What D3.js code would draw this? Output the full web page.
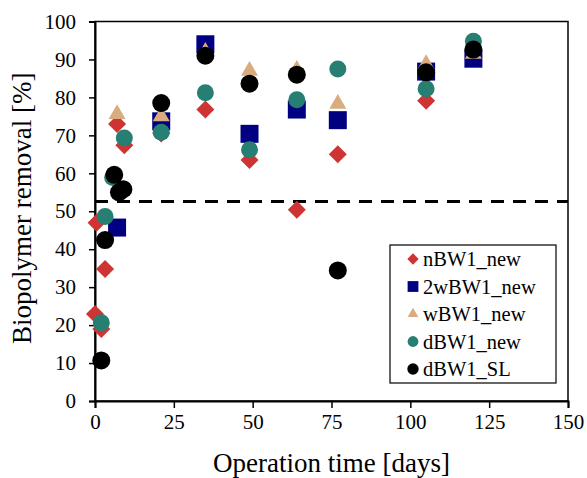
<!DOCTYPE html>
<html><head><meta charset="utf-8">
<script src="https://cdn.jsdelivr.net/npm/d3@7"></script>
<style>body{margin:0;background:#fff}svg{display:block}text{font-family:"Liberation Serif","Times New Roman",serif;fill:#000}</style>
</head><body><svg id="c" width="587" height="478"></svg>
<script>
const xTicks=[0,25,50,75,100,125,150];
const yTicks=[0,10,20,30,40,50,60,70,80,90,100];
const threshold=52.6;
const seriesNames=["nBW1_new","2wBW1_new","wBW1_new","dBW1_new","dBW1_SL"];
const nBW1_new=[[0,22.9],[2,19],[0.5,47],[3.2,34.8],[7,73],[9.3,67.4],[21,70.5],[35,76.8],[49,63.5],[64,50.4],[77,65],[105,79.1],[120,92]];
const w2BW1_new=[[7,45.7],[21,73.7],[35,94],[49,70.4],[64,76.8],[77,74],[105,86.8],[120,90.2]];
const wBW1_new=[[7,75.6],[21,75],[35,92],[49,87],[64,87.3],[77,78.3],[105,88.8],[120,91.5]];
const dBW1_new=[[2,20.6],[3.2,48.6],[5.6,58.9],[9.3,69.3],[21,70.8],[35,81.2],[49,66.2],[64,79.4],[77,87.5],[105,82.3],[120,94.8]];
const dBW1_SL=[[2,10.7],[3.2,42.4],[6.1,59.6],[7.6,55],[9,55.8],[21,78.5],[35,91],[49,83.6],[64,86],[77,34.4],[105,86.6],[120,92.6]];
const colors=["#cf3434","#000080","#d8ac7f","#267f72","#000000"];
const allSeries=[nBW1_new,w2BW1_new,wBW1_new,dBW1_new,dBW1_SL];

const svg=d3.select("#c");
const L=95,R=568,T=21.5,B=401;
const x=d3.scaleLinear().domain([0,150]).range([L,R]);
const y=d3.scaleLinear().domain([0,100]).range([B,T]);

svg.append("rect").attr("x",L).attr("y",T).attr("width",R-L).attr("height",B-T).attr("fill","none").attr("stroke","#000").attr("stroke-width",1.5);

const xa=svg.append("g").attr("transform",`translate(0,${B})`).call(d3.axisBottom(x).tickValues(xTicks).tickSize(7).tickPadding(6).tickFormat(d3.format("d")));
const ya=svg.append("g").attr("transform",`translate(${L},0)`).call(d3.axisLeft(y).tickValues(yTicks).tickSize(6).tickPadding(13).tickFormat(d3.format("d")));
[xa,ya].forEach(a=>{a.select(".domain").attr("stroke","#000").attr("stroke-width",2);a.selectAll(".tick line").attr("stroke","#000").attr("stroke-width",1.5);a.selectAll("text").style("font-family","Liberation Serif").style("font-size","21px").attr("fill","#000");});

svg.append("line").attr("x1",L).attr("x2",R).attr("y1",y(threshold)).attr("y2",y(threshold)).attr("stroke","#000").attr("stroke-width",3).attr("stroke-dasharray","13,9");

function shape(i,s){
  const sym=d3.symbol();
  if(i===0) return sym.type(d3.symbolSquare).size(162*s)();
  if(i===1) return sym.type(d3.symbolSquare).size(324*s)();
  if(i===2) return sym.type(d3.symbolTriangle).size(125*s)();
  if(i===3) return sym.type(d3.symbolCircle).size(Math.PI*8.5*8.5*s)();
  return sym.type(d3.symbolCircle).size(Math.PI*9*9*s)();
}
allSeries.forEach((data,i)=>{
  svg.append("g").selectAll("path").data(data).join("path")
    .attr("d",shape(i,1))
    .attr("transform",d=>`translate(${x(d[0])},${y(d[1])})`+(i===0?" rotate(45)":""))
    .attr("fill",colors[i]);
});

const lg=svg.append("g");
lg.append("rect").attr("x",390).attr("y",245).attr("width",166).attr("height",138).attr("fill","#fff").attr("stroke","#000").attr("stroke-width",1.2);
seriesNames.forEach((n,i)=>{
  const yy=259+i*27.5;
  lg.append("path").attr("d",shape(i,i===1?0.36:0.4)).attr("transform",`translate(413,${yy})`+(i===0?" rotate(45)":"")).attr("fill",colors[i]);
  lg.append("text").attr("x",423).attr("y",yy+7).style("font-size","20.5px").text(n);
});

svg.append("text").attr("x",(L+R)/2).attr("y",472).attr("text-anchor","middle").style("font-size","27px").text("Operation time [days]");
svg.append("text").attr("transform",`translate(31,${(T+B)/2-3}) rotate(-90)`).attr("text-anchor","middle").style("font-size","27px").text("Biopolymer removal [%]");
</script></body></html>
